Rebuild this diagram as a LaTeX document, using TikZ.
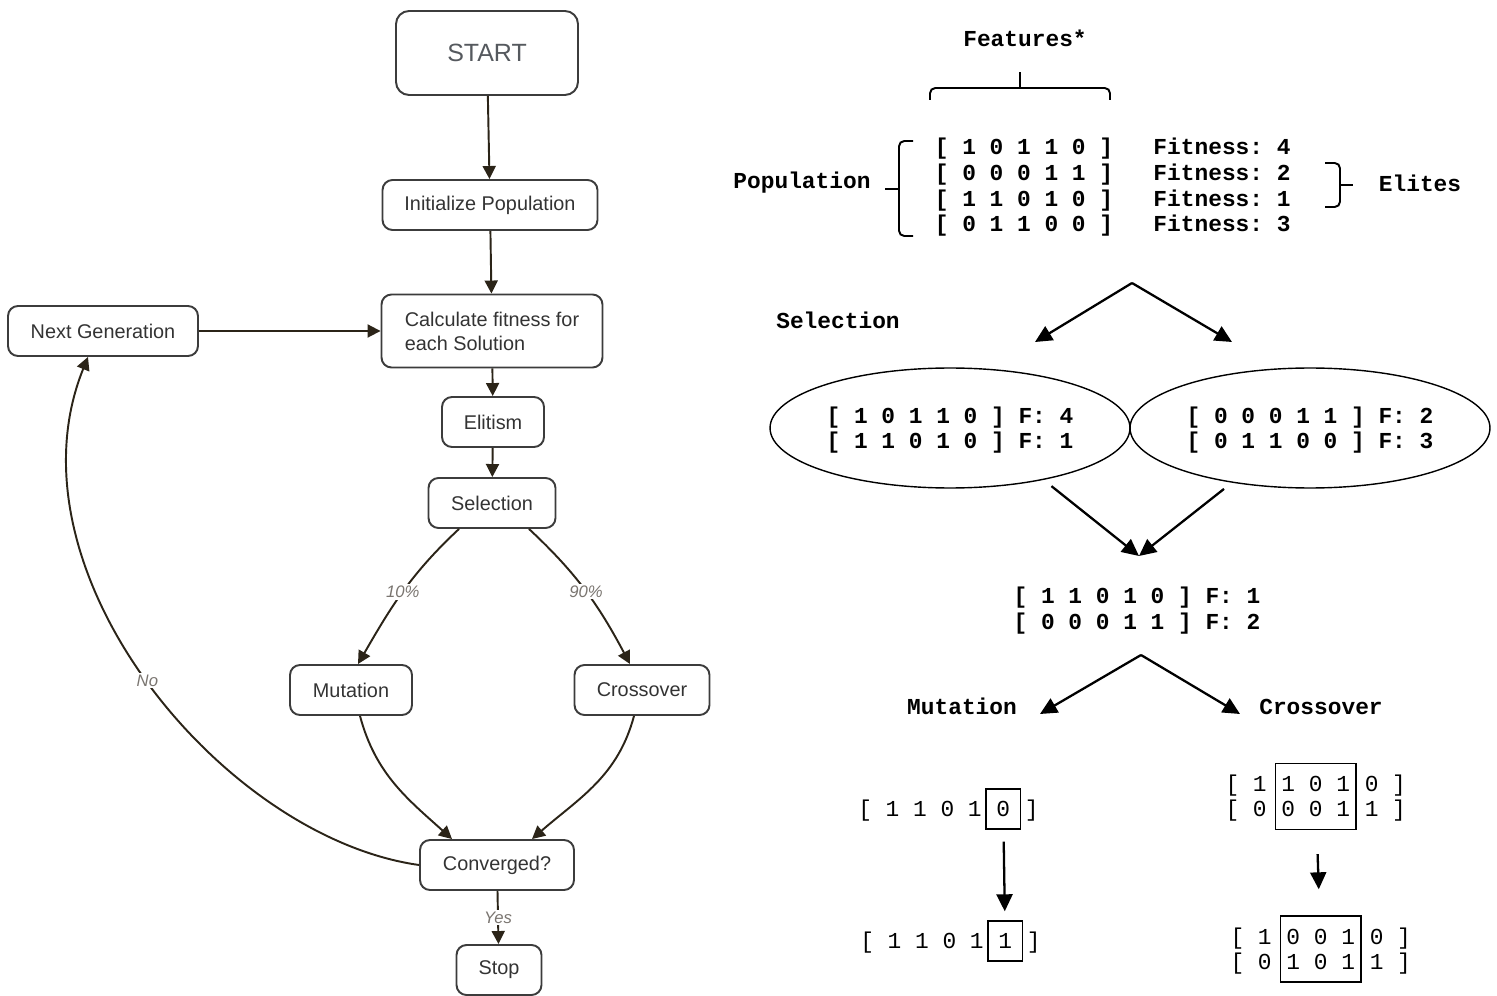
\documentclass[tikz,border=0pt]{standalone}
\usepackage{fontspec}
\setmainfont{Liberation Sans}
\setmonofont{Liberation Mono}
\usetikzlibrary{arrows.meta,positioning,shapes.geometric}
\definecolor{boxline}{HTML}{3C3C3C}
\definecolor{arrline}{HTML}{2B2418}
\definecolor{boxtext}{HTML}{333333}
\definecolor{starttext}{HTML}{55595E}
\definecolor{lbltext}{HTML}{7A7570}
\newcommand{\bitstrut}{\rule[-3pt]{0pt}{15pt}}
\newcommand{\tightlines}{\setlength{\lineskiplimit}{-50pt}}

\begin{document}
\begin{tikzpicture}[
  x=0.02cm, y=0.02cm,
  box/.style={draw=boxline, line width=1.1pt, rounded corners=2mm, align=center, font=\fontsize{11.3}{13.6}\selectfont, text=boxtext, inner sep=0pt, minimum height=1cm},
  arr/.style={-{Triangle[length=2.6mm,width=2.6mm]}, line width=1.1pt, draw=arrline},
  lbl/.style={fill=white, font=\itshape\fontsize{9.5}{11}\selectfont, text=lbltext, inner sep=1pt},
  mono/.style={font=\ttfamily\fontsize{13}{14.3}\selectfont\tightlines, inner sep=0pt, align=left},
  bmono/.style={font=\ttfamily\bfseries\fontsize{13}{14.6}\selectfont\tightlines, inner sep=0pt, align=left},
  bigarr/.style={-{Triangle[length=3.4mm,width=3.2mm]}, line width=1.3pt},
  pick/.style={draw, line width=0.8pt, inner ysep=0pt},
  brk/.style={line width=1.1pt, rounded corners=3pt}
]
\useasboundingbox (0,0) rectangle (1497,-996);

\node[box, minimum width=3.64cm, minimum height=1.68cm, rounded corners=2.6mm, font=\fontsize{14.2}{16}\selectfont, text=starttext] (start) at (487,-53) {START};
\node[box, minimum width=4.3cm] (init) at (490,-205) {Initialize Population};
\node[box, minimum width=4.42cm, minimum height=1.46cm, align=left] (calc) at (492,-331) {Calculate fitness for\\each Solution};
\node[box, minimum width=2.04cm] (elit) at (493,-422) {Elitism};
\node[box, minimum width=2.54cm] (sel) at (492,-503) {Selection};
\node[box, minimum width=2.44cm] (mut) at (351,-690) {Mutation};
\node[box, minimum width=2.7cm] (cross) at (642,-690) {Crossover};
\node[box, minimum width=3.08cm] (conv) at (497,-865) {Converged?};
\node[box, minimum width=1.7cm] (stop) at (499,-970) {Stop};
\node[box, minimum width=3.8cm] (next) at (103,-331) {Next Generation};

\draw[arr] (start) -- (init);
\draw[arr] (init) -- (calc);
\draw[arr] (next) -- (calc);
\draw[arr] (calc) -- (elit);
\draw[arr] (elit) -- (sel);
\draw[arr] ([xshift=-0.66cm]sel.south) to[out=-137,in=60] node[lbl]{10\%} ([xshift=0.14cm]mut.north);
\draw[arr] ([xshift=0.74cm]sel.south) to[out=-43,in=118] node[lbl]{90\%} ([xshift=-0.24cm]cross.north);
\draw[arr] ([xshift=0.18cm]mut.south) to[out=-75,in=138] ([xshift=-0.9cm]conv.north);
\draw[arr] ([xshift=-0.16cm]cross.south) to[out=-105,in=41] ([xshift=0.7cm]conv.north);
\draw[arr] (conv.west) to[out=172,in=-112,out looseness=0.84,in looseness=0.97] node[lbl]{No} ([xshift=-0.3cm]next.south);
\draw[arr] (conv) -- node[lbl]{Yes} (stop);

\node[bmono] (feat) at (1025,-38) {Features*};
\draw[brk] (930,-100) -- (930,-88) -- (1110,-88) -- (1110,-100);
\draw[line width=1.1pt] (1020,-88) -- (1020,-72);

\node[bmono] (pop) at (802,-183) {Population};
\draw[brk] (913,-141) -- (899,-141) -- (899,-236) -- (913,-236);
\draw[line width=1.1pt] (899,-189) -- (885,-189);
\node[bmono] (popRows) at (1024,-185.5) {\bitstrut[ 1 0 1 1 0 ]\\\bitstrut[ 0 0 0 1 1 ]\\\bitstrut[ 1 1 0 1 0 ]\\\bitstrut[ 0 1 1 0 0 ]};
\node[bmono] (popFit) at (1222,-185.5) {\bitstrut Fitness: 4\\\bitstrut Fitness: 2\\\bitstrut Fitness: 1\\\bitstrut Fitness: 3};
\draw[brk] (1325,-163) -- (1340,-163) -- (1340,-207) -- (1325,-207);
\draw[line width=1.1pt] (1340,-185) -- (1353,-185);
\node[bmono] (elites) at (1420,-183) {Elites};

\node[bmono] (selT) at (838,-320) {Selection};
\coordinate (fork1) at (1132,-283);
\coordinate (forkA) at (1035,-342);
\coordinate (forkB) at (1232,-342);
\draw[bigarr] (fork1) -- (forkA);
\draw[bigarr] (fork1) -- (forkB);

\node[bmono, ellipse, draw, line width=0.8pt, minimum width=7.2cm, minimum height=2.4cm] (ellA) at (950,-428) {\bitstrut[ 1 0 1 1 0 ] F: 4\\\bitstrut[ 1 1 0 1 0 ] F: 1};
\node[bmono, ellipse, draw, line width=0.8pt, minimum width=7.2cm, minimum height=2.4cm] (ellB) at (1310,-428) {\bitstrut[ 0 0 0 1 1 ] F: 2\\\bitstrut[ 0 1 1 0 0 ] F: 3};
\coordinate (merge) at (1139,-556);
\draw[bigarr, shorten <=0.2cm] (ellA.-29) -- (merge);
\draw[bigarr, shorten <=0.2cm] (ellB.-145) -- (merge);

\node[bmono] (pair) at (1137,-608.5) {\bitstrut[ 1 1 0 1 0 ] F: 1\\\bitstrut[ 0 0 0 1 1 ] F: 2};
\coordinate (fork2) at (1141,-655);
\coordinate (forkC) at (1040,-714);
\coordinate (forkD) at (1240,-714);
\draw[bigarr] (fork2) -- (forkC);
\draw[bigarr] (fork2) -- (forkD);
\node[bmono] (mutT) at (962,-706) {Mutation};
\node[bmono] (crossT) at (1321,-707) {Crossover};

\node[mono, anchor=east] (mutRowA) at (982,-809) {\bitstrut[ 1 1 0 1};
\node[mono, pick, inner xsep=0.21cm, minimum height=0.8cm, right=1.8pt of mutRowA] (mutBoxA) {\bitstrut 0};
\node[mono, right=1.8pt of mutBoxA] (mutEndA) {\bitstrut]};
\node[mono, anchor=east] (mutRowB) at (984,-941) {\bitstrut[ 1 1 0 1};
\node[mono, pick, inner xsep=0.21cm, minimum height=0.8cm, right=1.8pt of mutRowB] (mutBoxB) {\bitstrut 1};
\node[mono, right=1.8pt of mutBoxB] (mutEndB) {\bitstrut]};
\draw[bigarr, shorten <=0.24cm, shorten >=0.18cm] (mutBoxA) -- (mutBoxB);

\node[mono, anchor=east] (crossRowA) at (1267,-796.5) {\bitstrut[ 1\\\bitstrut[ 0};
\node[mono, pick, inner xsep=0.12cm, minimum height=1.32cm, right=0.155cm of crossRowA] (crossBoxA) {\bitstrut 1 0 1\\\bitstrut 0 0 1};
\node[mono, right=0.155cm of crossBoxA] (crossEndA) {\bitstrut 0 ]\\\bitstrut 1 ]};
\node[mono, anchor=east] (crossRowB) at (1272,-949) {\bitstrut[ 1\\\bitstrut[ 0};
\node[mono, pick, inner xsep=0.12cm, minimum height=1.32cm, right=0.155cm of crossRowB] (crossBoxB) {\bitstrut 0 0 1\\\bitstrut 1 0 1};
\node[mono, right=0.155cm of crossBoxB] (crossEndB) {\bitstrut 0 ]\\\bitstrut 1 ]};
\draw[bigarr, shorten <=0.48cm, shorten >=0.52cm] (crossBoxA) -- (crossBoxB);
\end{tikzpicture}
\end{document}
